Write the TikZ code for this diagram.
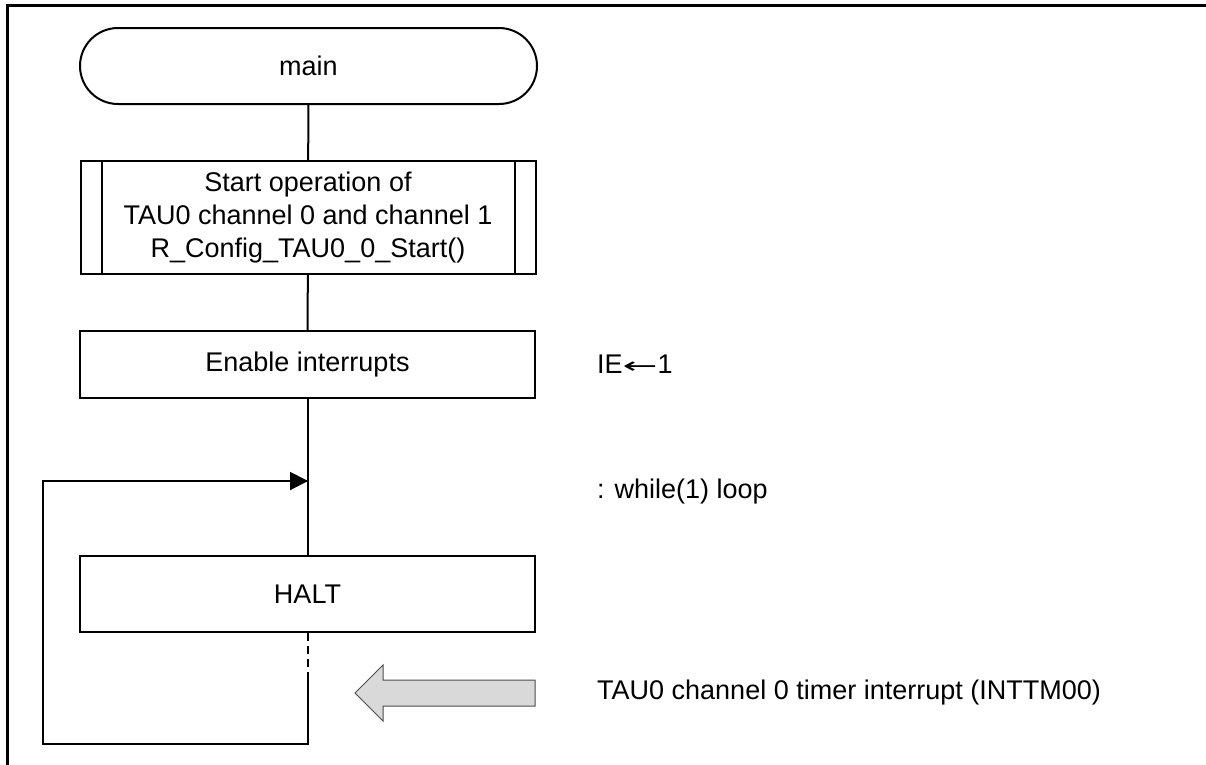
\documentclass[tikz,border=0pt]{standalone}
\usepackage{fontspec}
\setmainfont{Liberation Sans}
\newfontfamily\arrowfont{DejaVu Sans}
\usetikzlibrary{arrows.meta}
\begin{document}
\begin{tikzpicture}[x=1pt,y=-1pt,
  every node/.style={font=\fontsize{27}{33}\selectfont},
  proc/.style={draw,line width=2pt,minimum width=455pt,minimum height=67pt,inner sep=0pt,align=center},
  term/.style={draw,line width=2pt,minimum width=457pt,minimum height=76pt,rounded corners=38pt,inner sep=0pt},
  flow/.style={line width=2pt},
  note/.style={anchor=west,inner sep=0pt}]
\useasboundingbox (0,0) rectangle (1206,764);
\draw[line width=3pt] (7,766) -- (7,5) -- (1208,5);
\node[term] (main) at (308.5,66) {main};
\node[proc,minimum height=113pt] (start) at (308,217.5) {Start operation of\\TAU0 channel 0 and channel 1\\R\_Config\_TAU0\_0\_Start()};
\draw[line width=2pt] ([xshift=22pt]start.north west) -- ([xshift=22pt]start.south west)
  ([xshift=-22pt]start.north east) -- ([xshift=-22pt]start.south east);
\node[proc] (enable) at (307.5,364.5) {Enable interrupts};
\node[proc,minimum height=76pt] (halt) at (307.5,594) {HALT};
\coordinate (d) at (308,677);
\coordinate (bl) at (43,744);
\coordinate (br) at (308,744);
\coordinate (tl) at (43,481);
\coordinate (tr) at (308,481);
\draw[flow] (main) -- (start);
\draw[flow] (start) -- (enable);
\draw[flow] (enable) -- (halt);
\draw[flow,dash pattern=on 8pt off 5pt] (halt.south -| d) -- (d);
\draw[flow] (d) -- (br) -- (bl) -- (tl) -- (tr);
\draw[flow,-{Triangle[length=18pt,width=18pt]}] (tl) -- (tr);
\draw[line width=1pt,draw=black!70,fill=black!15] (355,693) -- (383,665) -- (383,680) -- (535,680) -- (535,706) -- (383,706) -- (383,721) -- cycle;
\node[note] (ie) at (597,364) {IE{\arrowfont\fontsize{22}{33}\selectfont\scalebox{1.9}[1]{←}}1};
\node[note] (wl) at (597,492) {: while(1) loop};
\node[note] (intr) at (597,693) {TAU0 channel 0 timer interrupt (INTTM00)};
\end{tikzpicture}
\end{document}
